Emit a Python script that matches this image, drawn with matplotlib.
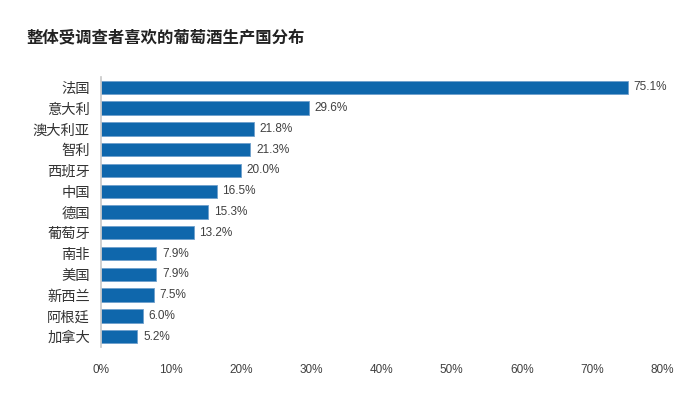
import numpy as np
import matplotlib
matplotlib.use('Agg')
import matplotlib.pyplot as plt
from matplotlib.ticker import FuncFormatter

plt.rcParams['font.family'] = ['Noto Sans CJK SC', 'DejaVu Sans']

countries = ['法国', '意大利', '澳大利亚', '智利', '西班牙', '中国', '德国',
             '葡萄牙', '南非', '美国', '新西兰', '阿根廷', '加拿大']
shares = [75.1, 29.6, 21.8, 21.3, 20.0, 16.5, 15.3, 13.2, 7.9, 7.9, 7.5, 6.0, 5.2]
title = '整体受调查者喜欢的葡萄酒生产国分布'


def main():
    fig = plt.figure(figsize=(7.0, 3.96), dpi=100)
    ax = fig.add_axes([0.1443, 0.1237, 0.8014, 0.682])

    y = np.arange(len(countries))
    ax.barh(y, shares, height=0.64, color='#0f67ac', edgecolor='#6f9fcc', linewidth=0.6)
    for yi, v in zip(y, shares):
        ax.text(v + 0.8, yi, '{:.1f}%'.format(v), va='center', ha='left',
                fontsize=8.5, color='#404040', family='Liberation Sans')

    ax.set_yticks(y)
    ax.set_yticklabels(countries, fontsize=10.3, color='#333333')
    ax.set_ylim(len(countries) - 0.5, -0.5)
    ax.set_xlim(0, 80)
    ax.set_xticks(np.arange(0, 81, 10))
    ax.xaxis.set_major_formatter(FuncFormatter(lambda x, p: '{:d}%'.format(int(x))))
    for lab in ax.get_xticklabels():
        lab.set_family('Liberation Sans')
        lab.set_fontsize(8.5)
        lab.set_color('#404040')

    ax.tick_params(axis='both', length=0)
    ax.tick_params(axis='x', pad=12)
    ax.tick_params(axis='y', pad=8)
    for s in ['top', 'right', 'bottom']:
        ax.spines[s].set_visible(False)
    ax.spines['left'].set_color('#c8c8c8')
    ax.spines['left'].set_linewidth(1.2)

    fig.text(0.038, 0.905, title, fontsize=11.8, fontweight='bold', color='#222222',
             va='center', ha='left')

    fig.savefig('out.png', dpi=100, facecolor='white')


if __name__ == "__main__":
    main()
